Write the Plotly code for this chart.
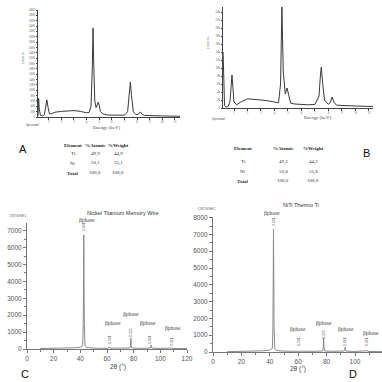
import plotly.graph_objects as go

# ---------------- DATA ----------------
# Panel A: EDS spectrum (energy keV, counts)
a_energy = [0.15, 0.2, 0.25, 0.35, 0.5, 0.65, 0.75, 0.85, 0.95, 1.05, 1.2, 1.5, 2.0, 2.5, 3.0, 3.5,
            4.0, 4.2, 4.35, 4.45, 4.51, 4.57, 4.65, 4.75, 4.85, 4.93, 5.0, 5.1, 5.3, 5.6, 6.0, 6.5,
            7.0, 7.25, 7.38, 7.47, 7.56, 7.7, 7.9, 8.1, 8.26, 8.4, 8.6, 9.0, 10.0, 11.0, 11.4]
a_counts = [50, 700, 300, 60, 40, 80, 350, 640, 350, 120, 120, 180, 210, 220, 240, 210,
            160, 170, 400, 1800, 3330, 1900, 600, 350, 480, 560, 430, 200, 110, 80, 70, 60,
            70, 200, 800, 1310, 800, 200, 90, 100, 190, 100, 60, 50, 40, 30, 25]

# Panel B: EDS spectrum
b_energy = [0.19, 0.22, 0.3, 0.4, 0.55, 0.7, 0.8, 0.85, 0.9, 1.0, 1.2, 1.5, 2.0, 2.5, 3.0, 3.5,
            4.0, 4.3, 4.45, 4.55, 4.65, 4.8, 4.93, 5.05, 5.2, 5.5, 6.0, 6.5, 7.0, 7.3, 7.4, 7.47,
            7.55, 7.7, 8.0, 8.15, 8.26, 8.4, 8.6, 9.0, 10.0, 11.0, 11.3]
b_counts = [14000, 8000, 600, 300, 300, 1500, 6500, 8250, 6000, 1500, 800, 1500, 2300, 2200, 2000, 1800,
            1500, 1300, 6000, 25250, 9000, 3500, 5000, 3000, 1200, 1000, 900, 800, 900, 3000, 8000, 10250,
            7000, 2000, 900, 1500, 2750, 1500, 700, 600, 500, 400, 400]

# Table values
table_header = ["Element", "%Atomic", "%Weight"]
table_elements = ["Ti", "Ni", "Total"]
a_atomic = ["49,9", "50,1", "100,0"]
a_weight = ["44,9", "55,1", "100,0"]
b_atomic = ["49,2", "50,8", "100,0"]
b_weight = ["44,2", "55,8", "100,0"]

# Panel C: XRD (2theta, counts/sec)
c_2theta = [10, 20, 30, 35, 40, 41.8, 42.2, 42.6, 43.0, 43.5, 45, 50, 60, 61.6, 62.0, 62.4, 70,
            77.2, 77.6, 77.9, 78.2, 78.6, 85, 92.4, 92.8, 93.1, 93.4, 93.8, 100, 107.4, 107.8,
            108.1, 108.4, 108.8, 115, 120]
c_counts = [30, 35, 50, 70, 100, 200, 1500, 6750, 1500, 200, 90, 50, 40, 60, 90, 50, 40,
            60, 200, 650, 200, 60, 40, 60, 120, 240, 110, 50, 35, 40, 60,
            80, 55, 35, 30, 30]

# Panel D: XRD
d_2theta = [10, 20, 30, 35, 40, 41.8, 42.2, 42.6, 43.0, 43.5, 45, 50, 60, 61.6, 62.0, 62.4, 70,
            77.2, 77.6, 77.9, 78.2, 78.6, 85, 92.4, 92.8, 93.1, 93.4, 93.8, 100, 107.4, 107.8,
            108.1, 108.4, 108.8, 115, 119]
d_counts = [20, 30, 40, 70, 110, 220, 1500, 7300, 1500, 200, 90, 50, 40, 60, 90, 50, 40,
            60, 250, 830, 250, 60, 40, 60, 150, 300, 140, 50, 35, 40, 70,
            120, 65, 35, 30, 30]

peak_2theta = [42.6, 62.0, 77.9, 93.1, 108.1]
peak_dspacing = ["2.131", "1.501", "1.225", "1.061", "0.951"]
peak_phase = ["βphase"] * 5

W = H = 382


def px(x):
    return x / W


def py(y):
    return 1 - y / H


fig = go.Figure()
line_eds = dict(color="#3a3a3a", width=1)
line_xrd = dict(color="#8a8a8a", width=1)
fig.add_trace(go.Scatter(x=a_energy, y=a_counts, mode="lines", line=line_eds, xaxis="x", yaxis="y"))
fig.add_trace(go.Scatter(x=b_energy, y=b_counts, mode="lines", line=line_eds, xaxis="x2", yaxis="y2"))
fig.add_trace(go.Scatter(x=c_2theta, y=c_counts, mode="lines", line=line_xrd, xaxis="x3", yaxis="y3"))
fig.add_trace(go.Scatter(x=d_2theta, y=d_counts, mode="lines", line=line_xrd, xaxis="x4", yaxis="y4"))

tiny = dict(family="Liberation Serif", size=3, color="#555")
xrdtick = dict(family="Liberation Sans", size=6.5, color="#555")
axcol = "#777"

common_eds = dict(showline=True, linecolor="#444", linewidth=1, zeroline=False, showgrid=False,
                  ticks="outside", ticklen=1.5, tickcolor="#444", tickfont=tiny)
common_xrd = dict(showline=True, linecolor=axcol, linewidth=1, zeroline=False, showgrid=False,
                  ticks="outside", ticklen=3, tickcolor=axcol, tickfont=xrdtick)

fig.update_layout(
    template="none",
    width=W, height=H, margin=dict(l=0, r=0, t=0, b=0),
    paper_bgcolor="white", plot_bgcolor="white", showlegend=False,
    xaxis=dict(domain=[px(38), px(180)], range=[0.15, 11.4], anchor="y", dtick=1, tick0=0, **common_eds),
    yaxis=dict(domain=[py(117), py(10)], range=[0, 4000], anchor="x", dtick=200, **common_eds),
    xaxis2=dict(domain=[px(223), px(373)], range=[0.185, 11.3], anchor="y2", dtick=1, tick0=0, **common_eds),
    yaxis2=dict(domain=[py(108), py(7)], range=[0, 25250], anchor="x2", dtick=2000, **common_eds),
    xaxis3=dict(domain=[px(27), px(187)], range=[0, 120], anchor="y3", dtick=20,
                minor=dict(dtick=10, ticks="outside", ticklen=2, tickcolor=axcol), **common_xrd),
    yaxis3=dict(domain=[py(349), py(223)], range=[0, 7456], anchor="x3", dtick=1000,
                minor=dict(dtick=500, ticks="outside", ticklen=2, tickcolor=axcol), **common_xrd),
    xaxis4=dict(domain=[px(213), px(382)], range=[0, 119], anchor="y4", dtick=20,
                minor=dict(dtick=10, ticks="outside", ticklen=2, tickcolor=axcol), **common_xrd),
    yaxis4=dict(domain=[py(352), py(217)], range=[0, 8036], anchor="x4", dtick=1000,
                minor=dict(dtick=500, ticks="outside", ticklen=2, tickcolor=axcol), **common_xrd),
)

ann = []


def text(x, y, s, size=6, family="Liberation Sans", color="#333", angle=0, xanchor="center", **kw):
    ann.append(dict(x=px(x), y=py(y), xref="paper", yref="paper", text=s, showarrow=False,
                    font=dict(size=size, family=family, color=color), textangle=angle,
                    xanchor=xanchor, yanchor="middle", borderpad=0, **kw))


# EDS panel labels
text(107, 127, "Energy (keV)", size=5, family="Liberation Serif", color="#444")
text(318, 118, "Energy (keV)", size=5, family="Liberation Serif", color="#444")
text(32, 125, "Spectrum#", size=3, family="Liberation Serif", color="#444")
text(218, 119, "Spectrum#", size=3, family="Liberation Serif", color="#444")
text(23, 58, "c o u n t s", size=3, family="Liberation Serif", color="#555", angle=-90)
text(208, 43, "c o u n t s", size=3, family="Liberation Serif", color="#555", angle=-90)


# Tables
def table(cols_x, rows_y, atomic, weight):
    for cx, h in zip(cols_x, table_header):
        text(cx, rows_y[0], "<b>" + h + "</b>", size=5, family="Liberation Serif", color="#222")
    for i, el in enumerate(table_elements):
        lab = "<b>" + el + "</b>" if el == "Total" else el
        text(cols_x[0], rows_y[i + 1], lab, size=5, family="Liberation Serif", color="#333")
        text(cols_x[1], rows_y[i + 1], atomic[i], size=5, family="Liberation Serif", color="#333")
        text(cols_x[2], rows_y[i + 1], weight[i], size=5, family="Liberation Serif", color="#333")


table([73, 95, 118], [145, 154, 163, 173], a_atomic, a_weight)
table([243, 283, 313], [148, 162, 172, 181], b_atomic, b_weight)

# Panel letters
text(23, 149, "A", size=11, color="#111")
text(366, 153, "B", size=11, color="#111")
text(25, 374, "C", size=11, color="#111")
text(353, 374, "D", size=11, color="#111")

# XRD titles and axis labels
text(18, 216, "CNTS/SEC", size=3.5, color="#666")
text(207, 209, "CNTS/SEC", size=3.5, color="#666")
text(123, 213, "Nickel Titanium Memory Wire", size=5.5, color="#333")
text(301, 205, "NiTi Thermo Ti", size=5.5, color="#333")
text(118, 367, "2θ (°)", size=6.5, color="#444")
text(298, 369, "2θ (°)", size=6.5, color="#444")

# Peak labels (C)
c_phase_pos = [(87, 220), (113, 323), (131, 314), (148, 323), (173, 328)]
c_d_pos = [(84, 227), (110, 340), (131, 333), (150, 340), (172, 342)]
for (x, y), s in zip(c_phase_pos, peak_phase):
    text(x, y, s, size=5.5, family="Liberation Serif", color="#444")
for (x, y), s in zip(c_d_pos, peak_dspacing):
    text(x, y, s, size=3.5, family="Liberation Sans", color="#555", angle=-90)

# Peak labels (D)
d_phase_pos = [(272, 213), (298, 329), (324, 323), (346, 329), (371, 333)]
d_d_pos = [(274, 222), (299, 342), (324, 335), (345, 342), (367, 342)]
for (x, y), s in zip(d_phase_pos, peak_phase):
    text(x, y, s, size=5.5, family="Liberation Serif", color="#444")
for (x, y), s in zip(d_d_pos, peak_dspacing):
    text(x, y, s, size=3.5, family="Liberation Sans", color="#555", angle=-90)

fig.update_layout(annotations=ann)
fig.write_html("out.html", config={"displayModeBar": False},
               post_script="document.body.style.margin='0';document.body.style.overflow='hidden';")
